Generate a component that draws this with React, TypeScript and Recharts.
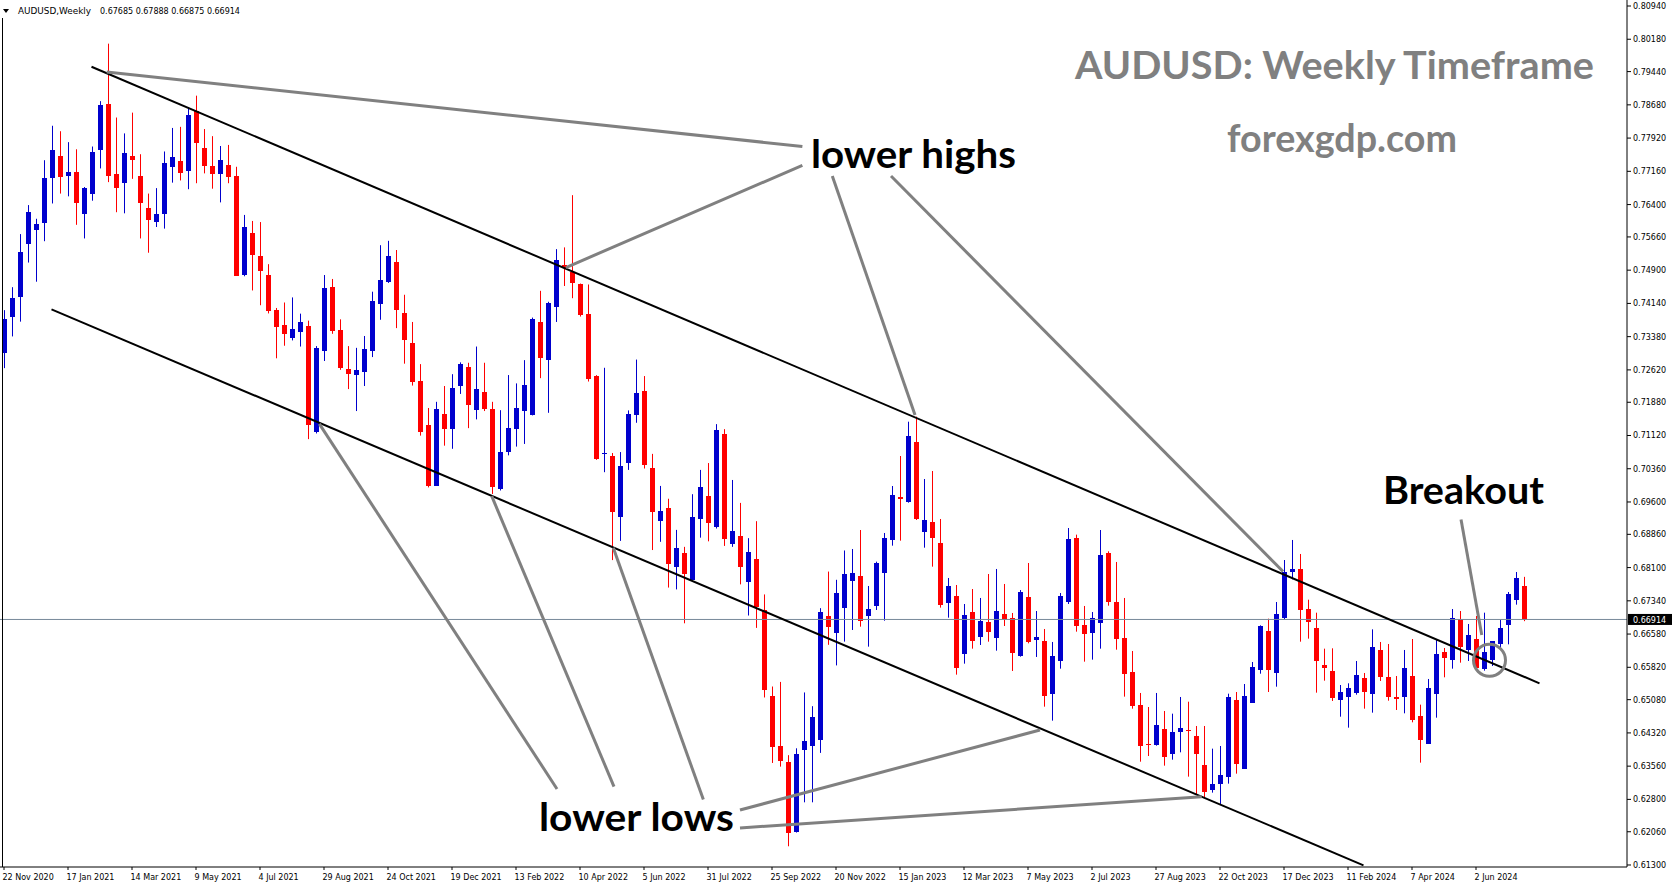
import React from 'react'
import { ComposedChart, Bar, XAxis, YAxis, ReferenceLine, ReferenceDot } from 'recharts'

// weekly AUDUSD candles, one per week starting 22 Nov 2020
const weekLabels = [
  '22 Nov 2020', '17 Jan 2021', '14 Mar 2021', '9 May 2021', '4 Jul 2021', '29 Aug 2021',
  '24 Oct 2021', '19 Dec 2021', '13 Feb 2022', '10 Apr 2022', '5 Jun 2022', '31 Jul 2022',
  '25 Sep 2022', '20 Nov 2022', '15 Jan 2023', '12 Mar 2023', '7 May 2023', '2 Jul 2023',
  '27 Aug 2023', '22 Oct 2023', '17 Dec 2023', '11 Feb 2024', '7 Apr 2024', '2 Jun 2024',
]

const priceTicks = [
  0.8094, 0.8018, 0.7944, 0.7868, 0.7792, 0.7716, 0.764, 0.7566, 0.749, 0.7414, 0.7338,
  0.7262, 0.7188, 0.7112, 0.7036, 0.696, 0.6886, 0.681, 0.6734, 0.6658, 0.6582, 0.6508,
  0.6432, 0.6356, 0.628, 0.6206, 0.613,
]

const opens = [
  0.73010, 0.73835, 0.74298, 0.75487, 0.75825, 0.75987, 0.77001, 0.77514, 0.77063, 0.77139,
  0.76175, 0.76651, 0.77639, 0.78702, 0.77101, 0.76888, 0.77514, 0.77051, 0.76325, 0.76012,
  0.76175, 0.77251, 0.77401, 0.77176, 0.78540, 0.77689, 0.77276, 0.77088, 0.77301, 0.77051,
  0.74799, 0.75750, 0.75224, 0.74786, 0.73986, 0.73648, 0.73354, 0.73495, 0.73625, 0.71208,
  0.73043, 0.74518, 0.73535, 0.72642, 0.72492, 0.72582, 0.73063, 0.74137, 0.74638, 0.75090,
  0.73916, 0.73234, 0.72361, 0.71358, 0.69974, 0.71609, 0.71278, 0.72241, 0.72682, 0.71709,
  0.72110, 0.71729, 0.69893, 0.70746, 0.71278, 0.71679, 0.71579, 0.73716, 0.72843, 0.74067,
  0.75020, 0.74866, 0.74573, 0.73903, 0.72479, 0.70700, 0.70647, 0.69265, 0.70480, 0.71579,
  0.72134, 0.70375, 0.69171, 0.69464, 0.68124, 0.68438, 0.67821, 0.69202, 0.69736, 0.69025,
  0.71160, 0.68648, 0.68826, 0.67779, 0.68292, 0.67140, 0.65161, 0.64020, 0.63654, 0.62052,
  0.63926, 0.64010, 0.64156, 0.66983, 0.66596, 0.67182, 0.67793, 0.67908, 0.67001, 0.67222,
  0.67984, 0.68731, 0.69714, 0.69592, 0.70971, 0.68921, 0.69142, 0.68662, 0.67298, 0.67450,
  0.66132, 0.67084, 0.66521, 0.66856, 0.66498, 0.67039, 0.66947, 0.66086, 0.67427, 0.66452,
  0.66421, 0.65217, 0.65972, 0.67321, 0.68776, 0.66787, 0.66612, 0.66841, 0.68433, 0.67313,
  0.66490, 0.65705, 0.64958, 0.64066, 0.64051, 0.64409, 0.63845, 0.64348, 0.64387, 0.64249,
  0.63586, 0.63022, 0.63144, 0.63320, 0.65072, 0.63502, 0.65012, 0.65766, 0.66650, 0.65697,
  0.66955, 0.68007, 0.68068, 0.67153, 0.66726, 0.65873, 0.65736, 0.65080, 0.65149, 0.65240,
  0.65575, 0.65217, 0.66216, 0.65598, 0.65141, 0.65149, 0.65621, 0.64707, 0.64074, 0.65217,
  0.66170, 0.65995, 0.66917, 0.66216, 0.66467, 0.65789, 0.65995, 0.66353, 0.66795, 0.67359,
  0.67685,
]

const highs = [
  0.73986, 0.74511, 0.75725, 0.76388, 0.76075, 0.77414, 0.78202, 0.78077, 0.77827, 0.77664,
  0.76801, 0.77727, 0.78765, 0.80079, 0.78390, 0.78027, 0.78502, 0.77551, 0.76651, 0.76776,
  0.77614, 0.78152, 0.78177, 0.78615, 0.78890, 0.78127, 0.77964, 0.77739, 0.77764, 0.77264,
  0.76163, 0.76025, 0.76000, 0.75037, 0.74036, 0.74161, 0.74277, 0.73906, 0.73746, 0.73164,
  0.74789, 0.74699, 0.73776, 0.73164, 0.73124, 0.73395, 0.74408, 0.75471, 0.75571, 0.75361,
  0.74338, 0.73716, 0.72752, 0.71749, 0.71890, 0.72251, 0.72522, 0.72792, 0.72783, 0.73154,
  0.72783, 0.71890, 0.71699, 0.72502, 0.72311, 0.72843, 0.73816, 0.74428, 0.74177, 0.75381,
  0.75421, 0.76615, 0.74594, 0.74573, 0.72500, 0.72668, 0.70720, 0.70741, 0.71694, 0.72856,
  0.72479, 0.70700, 0.69967, 0.69674, 0.68962, 0.68574, 0.69778, 0.70333, 0.70490, 0.71380,
  0.71265, 0.70103, 0.69579, 0.68773, 0.69161, 0.67486, 0.65381, 0.65486, 0.63811, 0.63968,
  0.65245, 0.64931, 0.67172, 0.68009, 0.67821, 0.68491, 0.68525, 0.68959, 0.67679, 0.68235,
  0.68891, 0.69965, 0.70651, 0.71436, 0.71551, 0.70125, 0.70308, 0.69211, 0.67862, 0.67702,
  0.67267, 0.67610, 0.67405, 0.67953, 0.68068, 0.67725, 0.67062, 0.67587, 0.68205, 0.67107,
  0.66696, 0.66399, 0.67519, 0.69005, 0.68853, 0.67222, 0.67084, 0.68959, 0.68472, 0.68228,
  0.67405, 0.66193, 0.65233, 0.64912, 0.65233, 0.64821, 0.64760, 0.65141, 0.65034, 0.64478,
  0.64478, 0.63960, 0.64021, 0.65217, 0.65255, 0.65438, 0.65941, 0.66780, 0.66932, 0.67313,
  0.68273, 0.68731, 0.68411, 0.67366, 0.67069, 0.66246, 0.66254, 0.65415, 0.65454, 0.65964,
  0.65690, 0.66688, 0.66399, 0.66353, 0.65621, 0.66216, 0.66467, 0.64966, 0.65553, 0.66459,
  0.66261, 0.67153, 0.67107, 0.66810, 0.66993, 0.67069, 0.66421, 0.66901, 0.67542, 0.67999,
  0.67888,
]

const lows = [
  0.72660, 0.73385, 0.73723, 0.75074, 0.74636, 0.75562, 0.76425, 0.76651, 0.76588, 0.75937,
  0.75625, 0.76488, 0.77226, 0.76913, 0.76225, 0.76200, 0.76988, 0.75625, 0.75299, 0.75887,
  0.75850, 0.76901, 0.76951, 0.76751, 0.76888, 0.77113, 0.76763, 0.76450, 0.76888, 0.74774,
  0.74761, 0.74436, 0.74098, 0.73911, 0.72885, 0.73172, 0.73294, 0.73154, 0.71037, 0.71167,
  0.72823, 0.73445, 0.72622, 0.72181, 0.71679, 0.72251, 0.72913, 0.73766, 0.74608, 0.73575,
  0.72762, 0.72261, 0.71117, 0.69933, 0.69974, 0.70887, 0.70816, 0.72070, 0.71288, 0.71488,
  0.71679, 0.69783, 0.69863, 0.70666, 0.70866, 0.70927, 0.71579, 0.72431, 0.71639, 0.73716,
  0.74538, 0.74259, 0.73840, 0.72354, 0.70563, 0.70281, 0.68271, 0.68710, 0.70333, 0.71411,
  0.70365, 0.68501, 0.68689, 0.67643, 0.67601, 0.66826, 0.67821, 0.68784, 0.68700, 0.68993,
  0.68595, 0.68574, 0.67716, 0.67004, 0.66721, 0.65130, 0.63633, 0.63549, 0.61728, 0.62042,
  0.62733, 0.62733, 0.63863, 0.66334, 0.65863, 0.66407, 0.66673, 0.66749, 0.66292, 0.67130,
  0.66886, 0.68601, 0.68715, 0.69584, 0.69188, 0.68555, 0.68121, 0.67184, 0.66955, 0.65652,
  0.65903, 0.66246, 0.66330, 0.66406, 0.66200, 0.66764, 0.65736, 0.66063, 0.66368, 0.66056,
  0.64920, 0.64600, 0.65789, 0.67267, 0.66635, 0.65949, 0.65995, 0.66246, 0.67229, 0.66223,
  0.65149, 0.64874, 0.63662, 0.63792, 0.64028, 0.63571, 0.63708, 0.63876, 0.63320, 0.62900,
  0.62839, 0.62954, 0.62695, 0.63160, 0.63388, 0.63502, 0.65012, 0.65674, 0.65255, 0.65377,
  0.66917, 0.67831, 0.66406, 0.66475, 0.65240, 0.65514, 0.65050, 0.64691, 0.64440, 0.65194,
  0.64874, 0.64783, 0.65507, 0.65057, 0.64844, 0.64768, 0.64562, 0.63640, 0.64074, 0.64668,
  0.65591, 0.65789, 0.65926, 0.65964, 0.65774, 0.65743, 0.65850, 0.66216, 0.66345, 0.67252,
  0.66875,
]

const closes = [
  0.73785, 0.74261, 0.75312, 0.76225, 0.75950, 0.77013, 0.77651, 0.77026, 0.77139, 0.76425,
  0.76776, 0.77601, 0.78677, 0.77063, 0.76788, 0.77576, 0.77414, 0.76425, 0.76038, 0.76188,
  0.77351, 0.77489, 0.77113, 0.78452, 0.77802, 0.77289, 0.77088, 0.77414, 0.77026, 0.74774,
  0.75887, 0.75249, 0.74886, 0.73973, 0.73610, 0.73435, 0.73545, 0.73716, 0.71368, 0.73124,
  0.74488, 0.73505, 0.72652, 0.72532, 0.72622, 0.73094, 0.74197, 0.74679, 0.75220, 0.73996,
  0.73314, 0.72351, 0.71208, 0.69974, 0.71729, 0.71258, 0.72211, 0.72752, 0.71820, 0.72181,
  0.71729, 0.69933, 0.70746, 0.71288, 0.71749, 0.72271, 0.73786, 0.72893, 0.74147, 0.75130,
  0.74939, 0.74605, 0.73882, 0.72416, 0.70584, 0.70731, 0.69380, 0.70427, 0.71610, 0.72092,
  0.70438, 0.69360, 0.69391, 0.68187, 0.68543, 0.67946, 0.69255, 0.69935, 0.69129, 0.71244,
  0.68763, 0.68941, 0.68103, 0.68459, 0.67192, 0.65308, 0.63999, 0.63685, 0.62021, 0.63842,
  0.64135, 0.64680, 0.67088, 0.66732, 0.67517, 0.67957, 0.67984, 0.66886, 0.67153, 0.68212,
  0.68776, 0.69760, 0.69676, 0.71109, 0.69218, 0.69188, 0.68784, 0.67245, 0.67679, 0.65812,
  0.67016, 0.66429, 0.66879, 0.66635, 0.67107, 0.66924, 0.66155, 0.67542, 0.66406, 0.66513,
  0.65172, 0.66079, 0.67450, 0.68754, 0.66772, 0.66589, 0.66947, 0.68388, 0.67321, 0.66475,
  0.65675, 0.64943, 0.64028, 0.64051, 0.64493, 0.63777, 0.64333, 0.64425, 0.64356, 0.63845,
  0.62961, 0.63152, 0.63350, 0.65141, 0.63617, 0.65164, 0.65827, 0.66764, 0.65758, 0.67039,
  0.67991, 0.68068, 0.67138, 0.66863, 0.65964, 0.65812, 0.65126, 0.65255, 0.65347, 0.65652,
  0.65263, 0.66292, 0.65606, 0.65149, 0.65088, 0.65804, 0.64623, 0.64165, 0.65347, 0.66116,
  0.66040, 0.66947, 0.66292, 0.66559, 0.65812, 0.66170, 0.66421, 0.66719, 0.67496, 0.67862,
  0.66914,
]

const lastPrice = 0.66914

// trend channel: [week1, price1, week2, price2]
const channelLines = [
  [11, 0.79552, 192, 0.65454],
  [6, 0.74003, 170, 0.61293],
]

// grey pointer lines from the notes to the touches
const pointerLines = [
  [12.9, 0.79429, 99.86, 0.77728],
  [70.3, 0.74961, 99.86, 0.77296],
  [103.6, 0.77053, 113.94, 0.71589],
  [110.94, 0.77053, 159.94, 0.6801],
  [39.48, 0.71387, 69.19, 0.63038],
  [61.03, 0.69732, 76.31, 0.63092],
  [76.22, 0.68555, 87.48, 0.62795],
  [92.06, 0.62557, 129.56, 0.64387],
  [92.06, 0.62146, 149.78, 0.62862],
  [182.19, 0.69199, 184.78, 0.66559],
]

const breakoutPoint = { week: 185.75, price: 0.6598 }

const SLOTS = 203 // candles plus empty space on the right
const BULL = '#0000cd'
const BEAR = '#ff0000'
const GREY = '#808080'
const AXIS_FONT = 'DejaVu Sans'

const rows = Array.from({ length: SLOTS }, (_, i) =>
  i < opens.length
    ? { i, open: opens[i], high: highs[i], low: lows[i], close: closes[i], range: [lows[i], highs[i]] }
    : { i, range: null }
)
const tickIdx = weekLabels.map((_, k) => k * 8)

const Candle = (props: any) => {
  const { x, y, width, height, payload } = props
  if (!payload || payload.high == null || x == null) return null
  const top = Math.min(y, y + height)
  const span = Math.abs(height)
  const { open, close, high, low } = payload
  const toY = (p: number) => top + ((high - p) / (high - low || 1)) * span
  const color = close >= open ? BULL : BEAR
  const bx = Math.round(x)
  const cx = bx + Math.floor(width / 2) + 0.5
  const y1 = Math.round(toY(Math.max(open, close)))
  const y2 = Math.round(toY(Math.min(open, close)))
  return (
    <g>
      <line x1={cx} x2={cx} y1={top} y2={top + span} stroke={color} strokeWidth={1} />
      <rect x={bx} y={y1} width={width} height={Math.max(1, y2 - y1)} fill={color} />
    </g>
  )
}

const DateTick = (props: any) => {
  const { x, y, payload } = props
  const label = weekLabels[Math.round(payload.value / 8)]
  return (
    <text x={x - 1.5} y={y + 8} fontSize={8} fontFamily={AXIS_FONT} fill="#000" textAnchor="start">
      {label}
    </text>
  )
}

const PriceTick = (props: any) => {
  const { x, y, payload } = props
  return (
    <text x={x} y={y + 3} fontSize={8} fontFamily={AXIS_FONT} fill="#000" textAnchor="start">
      {Number(payload.value).toFixed(5)}
    </text>
  )
}

const PriceBox = (props: any) => {
  const vb = props.viewBox
  if (!vb) return null
  const right = vb.x + vb.width
  return (
    <g>
      <rect x={right + 1} y={vb.y - 5.5} width={44} height={11} fill="#000" />
      <text x={right + 6} y={vb.y + 3.5} fontSize={8} fontFamily={AXIS_FONT} fill="#fff">
        {lastPrice.toFixed(5)}
      </text>
    </g>
  )
}

const bigText = { fontFamily: 'Lato', fontWeight: 700, fontSize: 39 }

export default function App() {
  return (
    <div style={{ position: 'absolute', left: 0, top: 0, width: 1673, height: 888, background: '#fff' }}>
      <ComposedChart width={1673} height={888} data={rows} margin={{ top: 0, right: 0, bottom: 0, left: 0 }}>
        <XAxis
          dataKey="i"
          type="category"
          ticks={tickIdx}
          interval={0}
          padding={{ left: 0, right: 3 }}
          height={21}
          tickSize={3}
          tick={<DateTick />}
          axisLine={{ stroke: '#000' }}
          tickLine={{ stroke: '#000' }}
        />
        <XAxis xAxisId="n" dataKey="i" type="number" domain={[-0.4375, 202.9375]} allowDataOverflow hide />
        <YAxis
          orientation="right"
          type="number"
          width={46}
          domain={[0.612541, 0.810772]}
          allowDataOverflow
          ticks={priceTicks}
          interval={0}
          tickSize={4}
          tick={<PriceTick />}
          axisLine={{ stroke: '#000' }}
          tickLine={{ stroke: '#000' }}
        />
        <ReferenceLine xAxisId="n" y={lastPrice} stroke="#778899" strokeWidth={1} label={<PriceBox />} />
        <ReferenceLine
          xAxisId="n"
          segment={[{ x: -0.125, y: 0.806656 }, { x: -0.125, y: 0.612541 }]}
          stroke="#000"
          strokeWidth={1}
          ifOverflow="visible"
        />
        <Bar dataKey="range" barSize={5} shape={<Candle />} isAnimationActive={false} />
        {channelLines.map((s, k) => (
          <ReferenceLine
            key={`ch-${k}`}
            xAxisId="n"
            segment={[{ x: s[0], y: s[1] }, { x: s[2], y: s[3] }]}
            stroke="#000"
            strokeWidth={2}
            ifOverflow="visible"
          />
        ))}
        {pointerLines.map((s, k) => (
          <ReferenceLine
            key={`pt-${k}`}
            xAxisId="n"
            segment={[{ x: s[0], y: s[1] }, { x: s[2], y: s[3] }]}
            stroke={GREY}
            strokeWidth={3}
            ifOverflow="visible"
          />
        ))}
        <ReferenceDot
          xAxisId="n"
          x={breakoutPoint.week}
          y={breakoutPoint.price}
          r={16}
          fill="none"
          stroke={GREY}
          strokeWidth={3}
          ifOverflow="visible"
        />
      </ComposedChart>
      <svg width={1673} height={888} style={{ position: 'absolute', left: 0, top: 0, pointerEvents: 'none' }}>
        <polygon points="3,9 9,9 6,13" fill="#000" />
        <text x={18} y={13.5} fontSize={8} fontFamily={AXIS_FONT} fill="#000" textLength={73} lengthAdjust="spacingAndGlyphs">
          AUDUSD,Weekly
        </text>
        <text x={100} y={13.5} fontSize={8} fontFamily={AXIS_FONT} fill="#000">
          0.67685 0.67888 0.66875 0.66914
        </text>
        <text x={1075} y={79} {...bigText} fill={GREY} textLength={519} lengthAdjust="spacingAndGlyphs">
          AUDUSD: Weekly Timeframe
        </text>
        <text x={1227} y={152} {...bigText} fill={GREY} textLength={230} lengthAdjust="spacingAndGlyphs">
          forexgdp.com
        </text>
        <text x={811} y={168} {...bigText} fill="#000" textLength={205} lengthAdjust="spacingAndGlyphs">
          lower highs
        </text>
        <text x={539} y={831} {...bigText} fill="#000" textLength={195} lengthAdjust="spacingAndGlyphs">
          lower lows
        </text>
        <text x={1383} y={504} {...bigText} fill="#000" textLength={161} lengthAdjust="spacingAndGlyphs">
          Breakout
        </text>
      </svg>
    </div>
  )
}
